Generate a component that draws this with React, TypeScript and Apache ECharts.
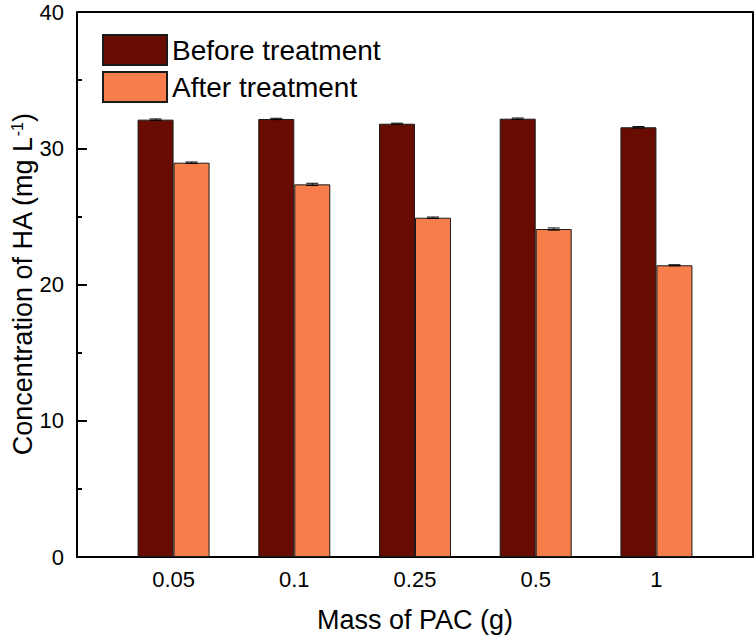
import React, { useEffect, useRef } from "react";
import * as echarts from "echarts";

const categories = ["0.05", "0.1", "0.25", "0.5", "1"];
const beforeValues = [32.1, 32.15, 31.8, 32.17, 31.54];
const afterValues = [28.94, 27.35, 24.9, 24.07, 21.41];
const beforeErrors = [0.05, 0.05, 0.04, 0.05, 0.05];
const afterErrors = [0.05, 0.08, 0.05, 0.08, 0.04];
const yTicks = [0, 10, 20, 30, 40];

const FONT = 'Arial, "Liberation Sans", sans-serif';
const DARK = "#680b01";
const ORANGE = "#f77e4a";

export default function App() {
  const ref = useRef<HTMLDivElement>(null);
  useEffect(() => {
    if (!ref.current) return;
    const chart = echarts.init(ref.current, undefined, { renderer: "svg" });
    const positions = categories.map((_, i) => i + 1);
    const errData: number[][] = [];
    positions.forEach((p, i) => {
      errData.push([p, beforeValues[i], beforeErrors[i], -1]);
      errData.push([p, afterValues[i], afterErrors[i], 1]);
    });
    chart.setOption({
      animation: false,
      backgroundColor: "#ffffff",
      textStyle: { fontFamily: FONT },
      grid: { left: 77, right: 3, top: 12, bottom: 81, containLabel: false, outerBoundsMode: "none" },
      legend: {
        orient: "vertical",
        left: 97,
        top: 29,
        itemWidth: 64,
        itemHeight: 30,
        itemGap: 5,
        icon: "rect",
        textStyle: { fontSize: 28, fontFamily: FONT, color: "#000" },
        data: ["Before treatment", "After treatment"],
      },
      xAxis: {
        type: "value",
        min: 0.2,
        max: 5.8,
        name: "Mass of PAC (g)",
        nameLocation: "middle",
        nameGap: 49,
        nameMoveOverlap: false,
        nameTextStyle: { fontSize: 27, fontFamily: FONT, color: "#000" },
        axisLine: { show: true, onZero: false, lineStyle: { color: "#000", width: 2 } },
        axisTick: { show: false },
        splitLine: { show: false },
        axisLabel: {
          customValues: positions,
          fontSize: 22,
          fontFamily: FONT,
          color: "#000",
          margin: 11,
          formatter: (v: number) => {
            const idx = Math.round(v) - 1;
            return Math.abs(v - Math.round(v)) < 1e-6 && categories[idx] !== undefined ? categories[idx] : "";
          },
        },
      },
      yAxis: [
        {
          type: "value",
          min: 0,
          max: 40,
          interval: 10,
          name: "Concentration of HA (mg L{sup|-1})",
          nameLocation: "middle",
          nameGap: 40,
          nameMoveOverlap: false,
          nameTextStyle: {
            fontSize: 27,
            fontFamily: FONT,
            color: "#000",
            rich: {
              sup: { fontSize: 16, fontFamily: FONT, color: "#000", verticalAlign: "top", padding: [0, 0, 12, 0] },
            },
          },
          axisLine: { show: true, lineStyle: { color: "#000", width: 2 } },
          axisTick: { show: true, inside: true, length: 10, lineStyle: { color: "#000", width: 2 } },
          minorTick: { show: true, splitNumber: 2, length: 5, lineStyle: { color: "#000", width: 2 } },
          splitLine: { show: false },
          axisLabel: {
            fontSize: 22,
            fontFamily: FONT,
            color: "#000",
            margin: 13,
            formatter: (v: number) => (yTicks.includes(v) ? String(v) : ""),
          },
        },
        {
          type: "value",
          min: 0,
          max: 40,
          position: "right",
          axisLine: { show: true, lineStyle: { color: "#000", width: 2 } },
          axisTick: { show: false },
          axisLabel: { show: false },
          splitLine: { show: false },
        },
      ],
      graphic: [
        {
          type: "line",
          shape: { x1: 77, y1: 12, x2: 753, y2: 12 },
          style: { stroke: "#000", lineWidth: 2 },
          z: 10,
        },
      ],
      series: [
        {
          name: "Before treatment",
          type: "bar",
          barWidth: 36,
          barGap: "0%",
          data: positions.map((p, i) => [p, beforeValues[i]]),
          itemStyle: { color: DARK, borderColor: "#1a1a1a", borderWidth: 1 },
        },
        {
          name: "After treatment",
          type: "bar",
          barWidth: 36,
          barGap: "0%",
          data: positions.map((p, i) => [p, afterValues[i]]),
          itemStyle: { color: ORANGE, borderColor: "#1a1a1a", borderWidth: 1 },
        },
        {
          type: "custom",
          name: "errors",
          data: errData,
          z: 5,
          renderItem: (params: any, api: any) => {
            const x = api.value(0);
            const v = api.value(1);
            const e = api.value(2);
            const side = api.value(3);
            const top = api.coord([x, v + e]);
            const bot = api.coord([x, v - e]);
            const cx = top[0] + side * 18;
            return {
              type: "group",
              children: [
                { type: "line", shape: { x1: cx, y1: top[1], x2: cx, y2: bot[1] }, style: { stroke: "#000", lineWidth: 1 } },
                { type: "line", shape: { x1: cx - 6, y1: top[1], x2: cx + 6, y2: top[1] }, style: { stroke: "#000", lineWidth: 1 } },
                { type: "line", shape: { x1: cx - 6, y1: bot[1], x2: cx + 6, y2: bot[1] }, style: { stroke: "#000", lineWidth: 1 } },
              ],
            };
          },
        },
      ],
    });
    return () => chart.dispose();
  }, []);
  return <div ref={ref} style={{ position: "absolute", left: 0, top: 0, width: 756, height: 638 }} />;
}
